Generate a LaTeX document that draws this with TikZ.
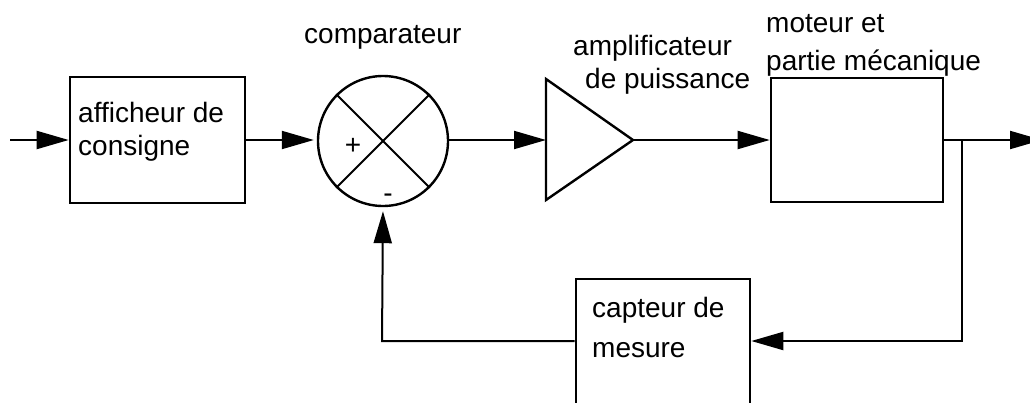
\documentclass[tikz,border=0pt]{standalone}
\usepackage{fontspec}
\setmainfont{Liberation Sans}
\usetikzlibrary{arrows.meta}
\begin{document}
\begin{tikzpicture}[x=1pt,y=-1pt,
  wire/.style={line width=2pt},
  flow/.style={wire,-{Triangle[length=32pt,width=18pt]}},
  blockbox/.style={draw,line width=2.6pt,rectangle,inner sep=0pt},
  txt/.style={anchor=base west,inner sep=0pt,font=\fontsize{28}{33}\selectfont},
  sign/.style={anchor=base,inner sep=0pt,font=\fontsize{28}{33}\selectfont}]
\useasboundingbox (0,0) rectangle (1030,402);
\clip (0,0) rectangle (1030,402);
% blocks
\node[blockbox,minimum width=175pt,minimum height=126pt] (aff) at (157.5,140) {};
\node[draw,circle,line width=2.4pt,minimum size=130pt,inner sep=0pt] (cmp) at (383,141) {};
\coordinate (ampin) at (546,140);
\coordinate (ampout) at (633,140);
\draw[line width=2.4pt,line join=miter] (546,79) -- (ampout) -- (546,200) -- cycle;
\node[blockbox,minimum width=172pt,minimum height=124pt] (mot) at (857,140) {};
\node[blockbox,minimum width=174pt,minimum height=160pt] (cap) at (663,359) {};
% X in comparator
\draw[wire] (cmp.45) -- (cmp.225);
\draw[wire] (cmp.135) -- (cmp.-45);
% texts
\node[txt] (t1) at (78,122) {afficheur de};
\node[txt] (t2) at (78,155) {consigne};
\node[txt] (t3) at (304,43) {comparateur};
\node[txt] (t4) at (573,55) {amplificateur};
\node[txt] (t5) at (585,88) {de puissance};
\node[txt] (t6) at (766,32) {moteur et};
\node[txt] (t7) at (766,70) {partie mécanique};
\node[txt] (t8) at (592,317) {capteur de};
\node[txt] (t9) at (592,357) {mesure};
\node[sign] (plus) at (353,154) {+};
\node[sign] (minus) at (388,202) {-};
% connectors
\coordinate (in) at (10,140);
\coordinate (out) at (1042,140);
\coordinate (br) at (962,140);
\coordinate (brd) at (962,341);
\coordinate (fbc) at (382,341);
\draw[flow] (in) -- (aff.west);
\draw[flow,shorten >=3pt] (aff.east) -- (aff.east -| cmp.west);
\draw[flow] (cmp.east |- ampin) -- (ampin);
\draw[flow] (ampout) -- (ampout -| mot.west);
\draw[flow] (mot.east) -- (out);
\draw[flow] (br) -- (brd) -- (brd -| cap.east);
\draw[flow,shorten >=4pt] (brd -| cap.west) -- (fbc) -- (cmp.south);
\end{tikzpicture}
\end{document}
